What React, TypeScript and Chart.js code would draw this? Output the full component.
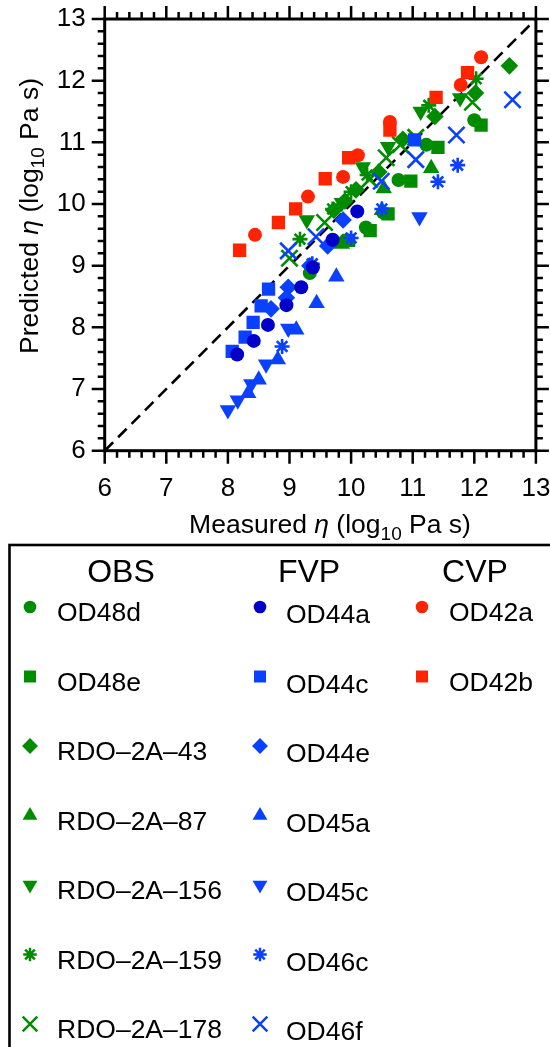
import React, { useEffect, useRef } from 'react';
import { Chart, registerables } from 'chart.js';

Chart.register(...registerables);

const FONT = "'Liberation Sans', Arial, Helvetica, sans-serif";

const GREEN = '#008c00';
const BLUE = '#0a40ff';
const NAVY = '#0000c8';
const RED = '#ff2400';

// axis
const AXIS_MIN = 6;
const AXIS_MAX = 13;
const TICK_LABELS = ['6', '7', '8', '9', '10', '11', '12', '13'];

// OBS
const OD48d: number[][] = [[12.0, 11.36], [11.22, 10.96], [10.77, 10.39], [10.24, 9.62], [9.90, 9.40], [9.33, 8.88], [10.52, 9.86]];
const OD48e: number[][] = [[12.11, 11.28], [11.41, 10.92], [10.97, 10.37], [10.31, 9.57], [9.96, 9.41], [10.60, 9.84]];
const RDO_2A_43: number[][] = [[12.57, 12.24], [12.02, 11.80], [11.36, 11.42], [10.84, 11.05], [10.45, 10.52], [10.08, 10.23], [9.90, 10.05], [9.72, 9.90]];
const RDO_2A_87: number[][] = [[11.30, 10.58], [10.53, 10.25], [10.50, 9.90], [9.85, 9.35]];
const RDO_2A_156: number[][] = [[11.77, 11.72], [11.13, 11.50], [10.60, 10.93], [10.19, 10.60], [9.85, 10.02], [9.28, 9.74]];
const RDO_2A_159: number[][] = [[12.03, 12.03], [11.26, 11.60], [10.26, 10.47], [10.00, 10.20], [9.70, 9.92], [9.17, 9.43]];
const RDO_2A_178: number[][] = [[11.97, 11.65], [11.05, 11.08], [10.80, 10.96], [10.57, 10.75], [10.30, 10.40], [9.57, 9.70], [9.00, 9.12]];

// FVP
const OD44a: number[][] = [[10.10, 9.88], [9.70, 9.42], [9.38, 8.97], [9.19, 8.65], [8.95, 8.36], [8.65, 8.04], [8.42, 7.78], [8.15, 7.56]];
const OD44c: number[][] = [[11.03, 11.04], [8.66, 8.62], [8.54, 8.35], [8.41, 8.08], [8.28, 7.84], [8.07, 7.61]];
const OD44e: number[][] = [[9.87, 9.74], [9.62, 9.32], [9.33, 9.00], [8.98, 8.65], [8.95, 8.48], [8.70, 8.30]];
const OD45a: number[][] = [[9.76, 8.82], [9.44, 8.39], [9.11, 7.96], [8.81, 7.48], [8.50, 7.15], [8.33, 6.93]];
const OD45c: number[][] = [[11.11, 9.79], [8.98, 7.98], [8.62, 7.40], [8.38, 7.08], [8.16, 6.82], [8.00, 6.66]];
const OD46c: number[][] = [[11.73, 10.63], [11.41, 10.36], [10.50, 9.92], [10.00, 9.45], [9.37, 9.03], [8.88, 7.69]];
const OD46f: number[][] = [[12.62, 11.69], [11.71, 11.12], [11.05, 10.72], [10.49, 10.37], [9.43, 9.47], [8.98, 9.24]];

// CVP
const OD42a: number[][] = [[12.11, 12.38], [11.78, 11.93], [10.63, 11.33], [10.11, 10.79], [9.87, 10.44], [9.30, 10.12], [8.44, 9.50]];
const OD42b: number[][] = [[11.89, 12.13], [11.38, 11.73], [10.63, 11.20], [9.96, 10.75], [9.58, 10.41], [9.10, 9.92], [8.82, 9.70], [8.19, 9.25]];

const GROUPS = ['OBS', 'FVP', 'CVP'];

type Series = { name: string; group: number; data: number[][]; style: string; rot: number; color: string; r: number };

const SERIES: Series[] = [
  { name: 'OD48d', group: 0, data: OD48d, style: 'circle', rot: 0, color: GREEN, r: 7 },
  { name: 'OD48e', group: 0, data: OD48e, style: 'rect', rot: 0, color: GREEN, r: 9.4 },
  { name: 'RDO\u20132A\u201343', group: 0, data: RDO_2A_43, style: 'rectRot', rot: 0, color: GREEN, r: 8.8 },
  { name: 'RDO\u20132A\u201387', group: 0, data: RDO_2A_87, style: 'triangle', rot: 0, color: GREEN, r: 9.5 },
  { name: 'RDO\u20132A\u2013156', group: 0, data: RDO_2A_156, style: 'triangle', rot: 180, color: GREEN, r: 9.5 },
  { name: 'RDO\u20132A\u2013159', group: 0, data: RDO_2A_159, style: 'star', rot: 0, color: GREEN, r: 7.5 },
  { name: 'RDO\u20132A\u2013178', group: 0, data: RDO_2A_178, style: 'crossRot', rot: 0, color: GREEN, r: 11.5 },
  { name: 'OD44a', group: 1, data: OD44a, style: 'circle', rot: 0, color: NAVY, r: 7 },
  { name: 'OD44c', group: 1, data: OD44c, style: 'rect', rot: 0, color: BLUE, r: 9.4 },
  { name: 'OD44e', group: 1, data: OD44e, style: 'rectRot', rot: 0, color: BLUE, r: 8.8 },
  { name: 'OD45a', group: 1, data: OD45a, style: 'triangle', rot: 0, color: BLUE, r: 9.5 },
  { name: 'OD45c', group: 1, data: OD45c, style: 'triangle', rot: 180, color: BLUE, r: 9.5 },
  { name: 'OD46c', group: 1, data: OD46c, style: 'star', rot: 0, color: BLUE, r: 7.5 },
  { name: 'OD46f', group: 1, data: OD46f, style: 'crossRot', rot: 0, color: BLUE, r: 11.5 },
  { name: 'OD42a', group: 2, data: OD42a, style: 'circle', rot: 0, color: RED, r: 7 },
  { name: 'OD42b', group: 2, data: OD42b, style: 'rect', rot: 0, color: RED, r: 9.4 },
];

function drawMarker(ctx: CanvasRenderingContext2D, style: string, x: number, y: number, r: number, color: string, rot: number) {
  ctx.save();
  ctx.fillStyle = color;
  ctx.strokeStyle = color;
  ctx.lineWidth = 2.5;
  ctx.translate(x, y);
  ctx.rotate((rot * Math.PI) / 180);
  ctx.beginPath();
  if (style === 'circle') {
    ctx.arc(0, 0, r, 0, Math.PI * 2);
    ctx.fill();
  } else if (style === 'rect') {
    const s = r * Math.SQRT1_2;
    ctx.rect(-s, -s, 2 * s, 2 * s);
    ctx.fill();
  } else if (style === 'rectRot') {
    ctx.moveTo(0, -r); ctx.lineTo(r, 0); ctx.lineTo(0, r); ctx.lineTo(-r, 0); ctx.closePath();
    ctx.fill();
  } else if (style === 'triangle') {
    for (let k = 0; k < 3; k++) {
      const a = (k * 2 * Math.PI) / 3;
      const px = Math.sin(a) * r, py = -Math.cos(a) * r;
      if (k === 0) ctx.moveTo(px, py); else ctx.lineTo(px, py);
    }
    ctx.closePath();
    ctx.fill();
  } else if (style === 'crossRot' || style === 'star') {
    const d = r * Math.SQRT1_2;
    ctx.moveTo(-d, -d); ctx.lineTo(d, d);
    ctx.moveTo(-d, d); ctx.lineTo(d, -d);
    if (style === 'star') {
      ctx.moveTo(0, -r); ctx.lineTo(0, r);
      ctx.moveTo(-r, 0); ctx.lineTo(r, 0);
    }
    ctx.stroke();
  }
  ctx.restore();
}

type Part = { t: string; italic?: boolean; sub?: boolean };

function richWidth(ctx: CanvasRenderingContext2D, parts: Part[], size: number) {
  let w = 0;
  for (const p of parts) {
    ctx.font = `${p.italic ? 'italic ' : ''}${p.sub ? Math.round(size * 0.72) : size}px ${FONT}`;
    w += ctx.measureText(p.t).width;
  }
  return w;
}

function drawRich(ctx: CanvasRenderingContext2D, parts: Part[], size: number, cx: number, baseline: number) {
  const w = richWidth(ctx, parts, size);
  let x = cx - w / 2;
  ctx.textAlign = 'left';
  ctx.textBaseline = 'alphabetic';
  ctx.fillStyle = '#000';
  for (const p of parts) {
    ctx.font = `${p.italic ? 'italic ' : ''}${p.sub ? Math.round(size * 0.72) : size}px ${FONT}`;
    ctx.fillText(p.t, x, baseline + (p.sub ? 6.5 : 0));
    x += ctx.measureText(p.t).width;
  }
}

const X_TITLE: Part[] = [{ t: 'Measured ' }, { t: '\u03b7', italic: true }, { t: ' (log' }, { t: '10', sub: true }, { t: ' Pa s)' }];
const Y_TITLE: Part[] = [{ t: 'Predicted ' }, { t: '\u03b7', italic: true }, { t: ' (log' }, { t: '10', sub: true }, { t: ' Pa s)' }];

const framePlugin = {
  id: 'frame',
  afterDraw(chart: any) {
    const { ctx, chartArea: a, scales } = chart;
    const xs = scales.x, ys = scales.y;
    ctx.save();
    ctx.strokeStyle = '#000';
    ctx.lineCap = 'butt';
    ctx.lineWidth = 2.5;
    ctx.beginPath();
    const n = Math.round((AXIS_MAX - AXIS_MIN) / 0.2);
    for (let i = 0; i <= n; i++) {
      const v = AXIS_MIN + i * 0.2;
      const len = i % 5 === 0 ? 13 : 7;
      const px = xs.getPixelForValue(v);
      const py = ys.getPixelForValue(v);
      ctx.moveTo(px, a.bottom); ctx.lineTo(px, a.bottom + len);
      ctx.moveTo(px, a.top); ctx.lineTo(px, a.top - len);
      ctx.moveTo(a.left, py); ctx.lineTo(a.left - len, py);
      ctx.moveTo(a.right, py); ctx.lineTo(a.right + len, py);
    }
    ctx.stroke();
    ctx.lineWidth = 3;
    ctx.strokeRect(a.left, a.top, a.right - a.left, a.bottom - a.top);

    // axis titles
    drawRich(ctx, X_TITLE, 26.5, 330, 533);
    ctx.save();
    ctx.translate(37.5, 216);
    ctx.rotate(-Math.PI / 2);
    drawRich(ctx, Y_TITLE, 26.5, 0, 0);
    ctx.restore();

    // legend box
    ctx.lineWidth = 2.6;
    ctx.strokeRect(9.5, 545, 600, 600);
    const headX = [121, 309, 475];
    const markX = [30, 260, 422];
    const labX = [57, 286, 449];
    ctx.fillStyle = '#000';
    ctx.textBaseline = 'middle';
    ctx.textAlign = 'center';
    ctx.font = `32px ${FONT}`;
    GROUPS.forEach((g, i) => ctx.fillText(g, headX[i], 573));
    const rowIdx = [0, 0, 0];
    for (const s of SERIES) {
      const k = rowIdx[s.group]++;
      const my = 607 + 69.5 * k;
      const ly = 614 + 69.5 * k + (s.group === 1 ? 2 : 0);
      drawMarker(ctx, s.style, markX[s.group], my, s.r * 0.9, s.color, s.rot);
      ctx.fillStyle = '#000';
      ctx.font = `26.5px ${FONT}`;
      ctx.textBaseline = 'middle';
      ctx.textAlign = 'left';
      ctx.fillText(s.name, labX[s.group], ly);
    }
    ctx.restore();
  },
};

export default function App() {
  const ref = useRef<HTMLCanvasElement | null>(null);
  useEffect(() => {
    const canvas = ref.current;
    if (!canvas) return;
    const datasets: any[] = [
      {
        label: '1:1',
        data: [{ x: AXIS_MIN, y: AXIS_MIN }, { x: AXIS_MAX, y: AXIS_MAX }],
        showLine: true,
        borderColor: '#000',
        borderWidth: 2.6,
        borderDash: [12, 7],
        pointRadius: 0,
        order: 10,
      },
    ];
    SERIES.forEach((s) => {
      const stroked = s.style === 'star' || s.style === 'crossRot';
      datasets.push({
        label: s.name,
        data: s.data.map(([x, y]) => ({ x, y })),
        pointStyle: s.style,
        pointRotation: s.rot,
        pointRadius: s.r,
        pointBackgroundColor: s.color,
        pointBorderColor: s.color,
        pointBorderWidth: stroked ? 2.6 : 0,
        showLine: false,
        order: 3 - s.group,
      });
    });
    const chart = new Chart(canvas, {
      type: 'scatter',
      data: { datasets },
      options: {
        responsive: false,
        animation: false,
        devicePixelRatio: 1,
        layout: { padding: { top: 19, right: 13.3, bottom: 516.3, left: 0 } },
        plugins: { legend: { display: false }, tooltip: { enabled: false } },
        scales: {
          x: {
            type: 'linear',
            min: AXIS_MIN,
            max: AXIS_MAX,
            ticks: {
              stepSize: 1,
              color: '#000',
              font: { family: FONT, size: 26 },
              padding: 23,
              maxRotation: 0,
              callback: (v: any) => TICK_LABELS[Math.round(Number(v) - AXIS_MIN)] ?? '',
            },
            grid: { display: false, drawTicks: false },
            border: { display: false },
            afterFit: (s: any) => { s.height = 80; s.paddingLeft = 0; s.paddingRight = 0; },
          },
          y: {
            type: 'linear',
            min: AXIS_MIN,
            max: AXIS_MAX,
            ticks: {
              stepSize: 1,
              color: '#000',
              font: { family: FONT, size: 26 },
              padding: 19,
              callback: (v: any) => TICK_LABELS[Math.round(Number(v) - AXIS_MIN)] ?? '',
            },
            grid: { display: false, drawTicks: false },
            border: { display: false },
            afterFit: (s: any) => { s.width = 104.7; s.paddingTop = 0; s.paddingBottom = 0; },
          },
        },
      },
      plugins: [framePlugin],
    });
    return () => chart.destroy();
  }, []);
  return (
    <div style={{ position: 'absolute', left: 0, top: 0, width: 550, height: 1047, background: '#fff' }}>
      <canvas ref={ref} width={550} height={1047} style={{ width: 550, height: 1047, display: 'block' }} />
    </div>
  );
}
